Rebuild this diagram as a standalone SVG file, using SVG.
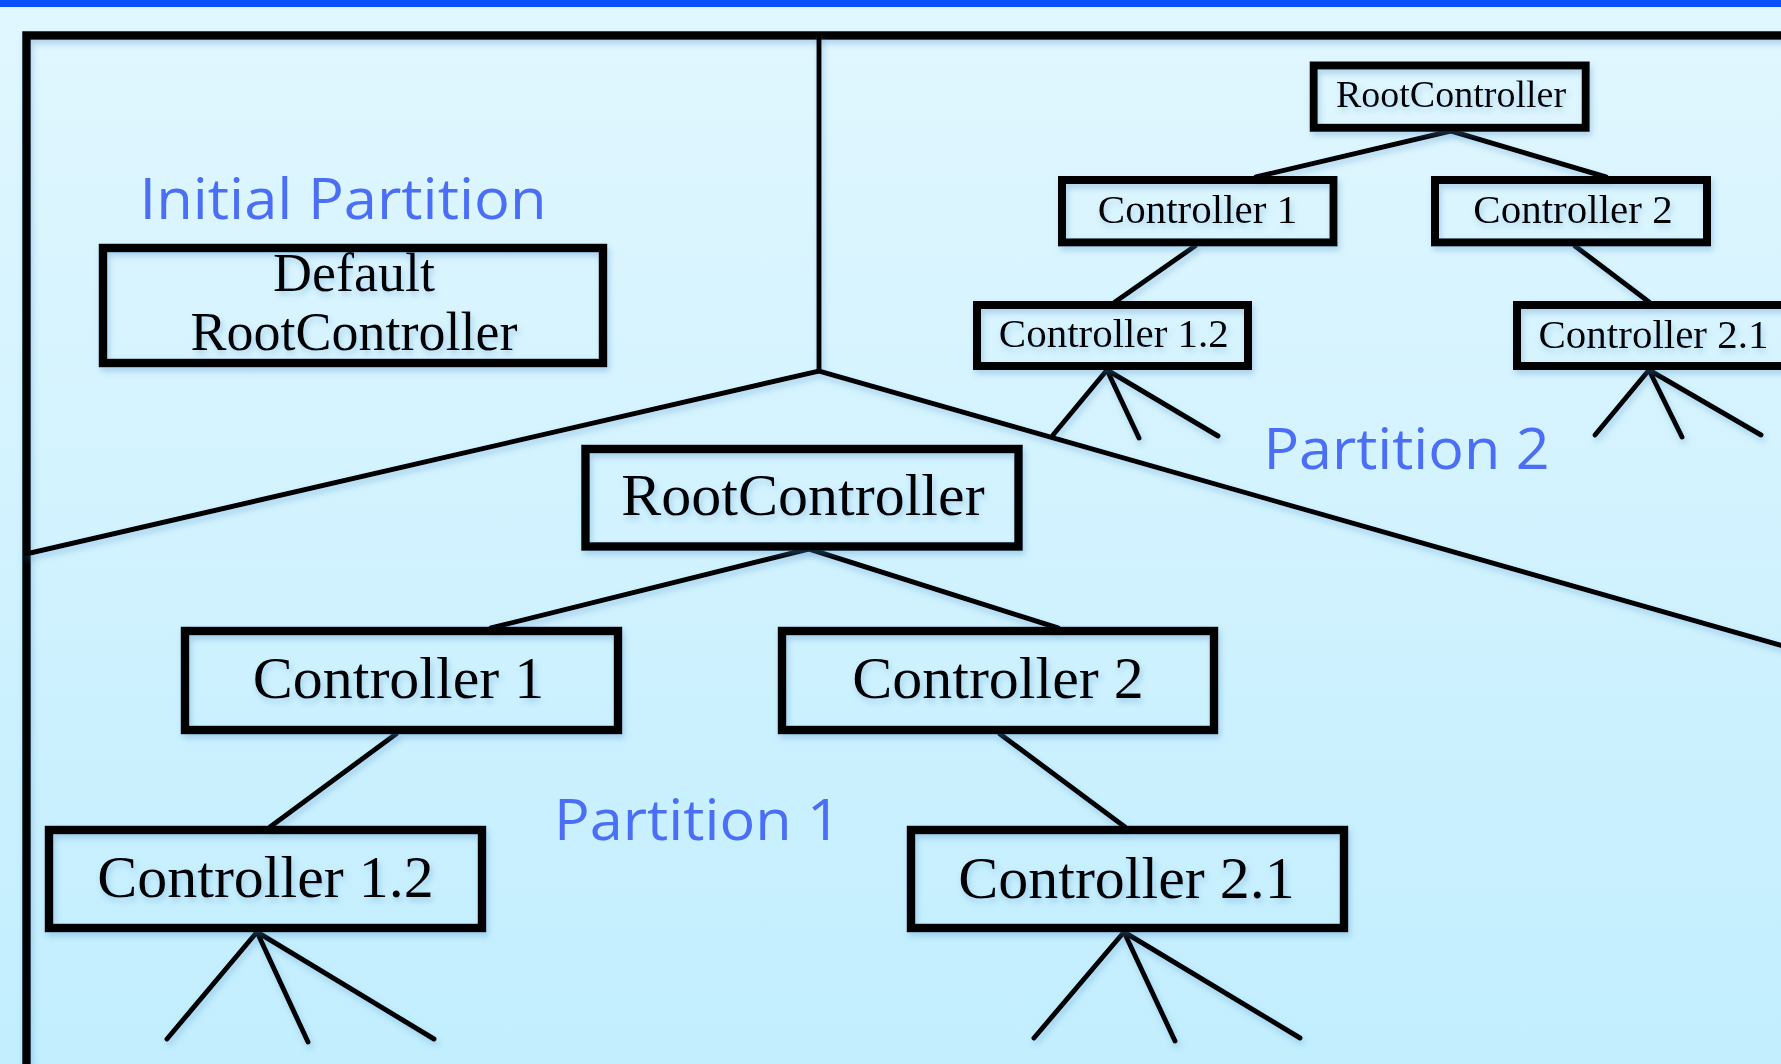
<svg xmlns="http://www.w3.org/2000/svg" width="1781" height="1064" viewBox="0 0 1781 1064">
<defs>
<linearGradient id="bg" x1="0" y1="0" x2="0" y2="1">
<stop offset="0" stop-color="#e1f7fe"/>
<stop offset="1" stop-color="#c2eefe"/>
</linearGradient>
<filter id="sh" x="-10%" y="-20%" width="130%" height="150%">
<feDropShadow dx="2" dy="4" stdDeviation="3" flood-color="#4f8fc8" flood-opacity="0.35"/>
</filter>
</defs>
<style>
.box{fill:none;stroke:#000;stroke-width:8.5}
.sbox{fill:none;stroke:#000;stroke-width:8}
.big{font-family:"Liberation Serif","Times New Roman",serif;font-size:60px;fill:#000;text-anchor:middle}
.mid{font-family:"Liberation Serif","Times New Roman",serif;font-size:54px;fill:#000;text-anchor:middle}
.sm{font-family:"Liberation Serif","Times New Roman",serif;font-size:41px;fill:#000;text-anchor:middle}
.lbl{font-family:"Open Sans","Noto Sans",sans-serif;font-size:57px;fill:#4a6ef5}
.ln{stroke:#000;stroke-width:5;fill:none;stroke-linecap:round}
.frame{stroke:#000;fill:none;stroke-width:8.5}
</style>
<rect x="0" y="0" width="1781" height="1064" fill="url(#bg)"/>
<rect x="0" y="0" width="1781" height="7" fill="#0a50ff"/>

<g id="frame" filter="url(#sh)">
<rect class="frame" x="26.5" y="35.5" width="2000" height="2000"/>
</g>

<g id="connectors" filter="url(#sh)">
<line class="ln" x1="819" y1="36" x2="819" y2="371"/>
<polyline class="ln" points="26,554 819,371 1790,648"/>
<line class="ln" x1="809" y1="549" x2="491" y2="628"/>
<line class="ln" x1="809" y1="549" x2="1058" y2="628"/>
<line class="ln" x1="396" y1="734" x2="270" y2="827"/>
<line class="ln" x1="1000" y1="734" x2="1125" y2="827"/>
<line class="ln" x1="257" y1="932" x2="167" y2="1039"/>
<line class="ln" x1="257" y1="932" x2="308" y2="1042"/>
<line class="ln" x1="257" y1="932" x2="434" y2="1039"/>
<line class="ln" x1="1124" y1="932" x2="1034" y2="1038"/>
<line class="ln" x1="1124" y1="932" x2="1175" y2="1041"/>
<line class="ln" x1="1124" y1="932" x2="1300" y2="1038"/>
<line class="ln" x1="1451" y1="131" x2="1256" y2="177"/>
<line class="ln" x1="1451" y1="131" x2="1606" y2="177"/>
<line class="ln" x1="1195" y1="246" x2="1115" y2="302"/>
<line class="ln" x1="1575" y1="246" x2="1649" y2="302"/>
<line class="ln" x1="1107" y1="370" x2="1053" y2="435"/>
<line class="ln" x1="1107" y1="370" x2="1139" y2="438"/>
<line class="ln" x1="1107" y1="370" x2="1218" y2="436"/>
<line class="ln" x1="1649" y1="370" x2="1595" y2="435"/>
<line class="ln" x1="1649" y1="370" x2="1682" y2="437"/>
<line class="ln" x1="1649" y1="370" x2="1761" y2="435"/>
</g>

<g id="labels">
<text class="lbl" x="139.5" y="218.5" textLength="407" lengthAdjust="spacingAndGlyphs">Initial Partition</text>
<text class="lbl" x="554" y="840" textLength="287" lengthAdjust="spacingAndGlyphs">Partition 1</text>
<text class="lbl" x="1263.5" y="468.5" textLength="286" lengthAdjust="spacingAndGlyphs">Partition 2</text>
</g>

<g id="default-root" filter="url(#sh)">
<rect class="box" x="103" y="248" width="500" height="115"/>
<text class="mid" x="354" y="291">Default</text>
<text class="mid" x="354" y="350">RootController</text>
</g>

<g id="p1-root" filter="url(#sh)">
<rect class="box" x="585.5" y="449" width="433" height="97.5"/>
<text class="big" x="803" y="515">RootController</text>
</g>
<g id="p1-c1" filter="url(#sh)">
<rect class="box" x="185" y="631" width="433" height="99"/>
<text class="big" x="398.5" y="698">Controller 1</text>
</g>
<g id="p1-c2" filter="url(#sh)">
<rect class="box" x="782" y="631" width="432" height="99"/>
<text class="big" x="998" y="698">Controller 2</text>
</g>
<g id="p1-c12" filter="url(#sh)">
<rect class="box" x="49" y="830" width="433" height="98"/>
<text class="big" x="265.5" y="897">Controller 1.2</text>
</g>
<g id="p1-c21" filter="url(#sh)">
<rect class="box" x="911" y="830" width="433" height="98"/>
<text class="big" x="1126.5" y="897.5">Controller 2.1</text>
</g>

<g id="p2-root" filter="url(#sh)">
<rect class="sbox" x="1313.7" y="65.5" width="272" height="62.3"/>
<text class="sm" x="1451" y="106.7" style="font-size:38px">RootController</text>
</g>
<g id="p2-c1" filter="url(#sh)">
<rect class="sbox" x="1062" y="180" width="271.5" height="62.4"/>
<text class="sm" x="1197.5" y="223">Controller 1</text>
</g>
<g id="p2-c2" filter="url(#sh)">
<rect class="sbox" x="1435" y="180" width="272" height="62.4"/>
<text class="sm" x="1573" y="223">Controller 2</text>
</g>
<g id="p2-c12" filter="url(#sh)">
<rect class="sbox" x="977" y="305" width="271" height="61"/>
<text class="sm" x="1113.8" y="347">Controller 1.2</text>
</g>
<g id="p2-c21" filter="url(#sh)">
<rect class="sbox" x="1517" y="305" width="300" height="61"/>
<text class="sm" x="1653.5" y="348">Controller 2.1</text>
</g>
</svg>
